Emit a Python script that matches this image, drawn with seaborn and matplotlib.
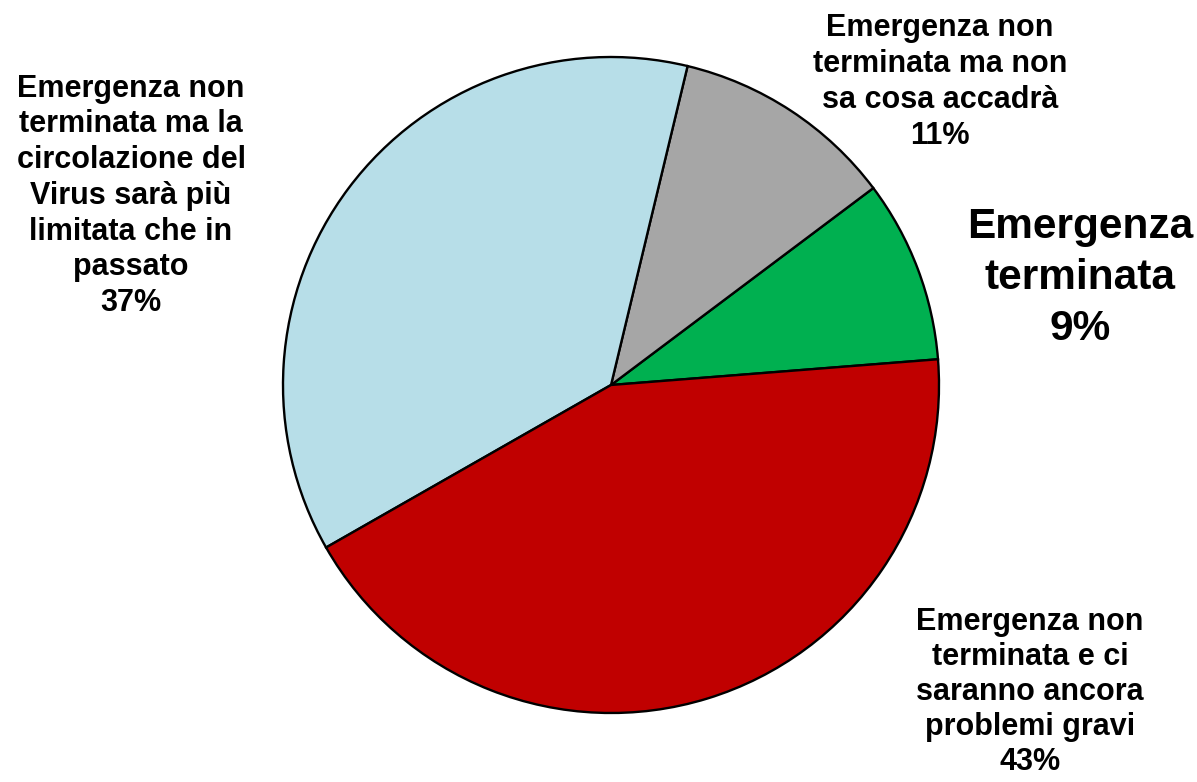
import matplotlib.pyplot as plt
import seaborn as sns

# dati del grafico
categorie = [
    "Emergenza\nterminata",
    "Emergenza non\nterminata ma non\nsa cosa accadrà",
    "Emergenza non\nterminata ma la\ncircolazione del\nVirus sarà più\nlimitata che in\npassato",
    "Emergenza non\nterminata e ci\nsaranno ancora\nproblemi gravi",
]
percentuali = [9, 11, 37, 43]
colori = ["#00B050", "#A6A6A6", "#B7DEE8", "#C00000"]

sns.set_style("white")
plt.rcParams["font.family"] = ["Liberation Sans", "DejaVu Sans"]

fig = plt.figure(figsize=(11.97, 7.82), dpi=100)
ax = fig.add_axes([0, 0, 1, 1])

r_px = 328
cx, cy = 611, 385

palette = sns.color_palette(colori)
ax.pie(
    percentuali,
    colors=palette,
    startangle=4.5,
    counterclock=True,
    radius=1,
    center=(0, 0),
    wedgeprops={"edgecolor": "black", "linewidth": 1.7},
    frame=True,
)
ax.set_xlim(-cx / r_px, (1197 - cx) / r_px)
ax.set_ylim(-(782 - cy) / r_px, cy / r_px)
ax.axis("off")


def px(x, y):
    return (x - cx) / r_px, (cy - y) / r_px


# posizioni delle etichette (pixel del riferimento)
pos_etichette = [(1080, 278), (940, 82), (131, 196), (1030, 692)]
dimensioni = [30.5, 22, 22, 22]
interlinea = [1.35, 1.25, 1.25, 1.22]

for cat, val, (x, y), fs, ls in zip(categorie, percentuali, pos_etichette, dimensioni, interlinea):
    tx, ty = px(x, y)
    ax.text(
        tx, ty, f"{cat}\n{val}%",
        ha="center", va="center", ma="center", color="black",
        fontsize=fs, fontweight="bold", linespacing=ls,
    )

fig.savefig("out.png", dpi=100)
